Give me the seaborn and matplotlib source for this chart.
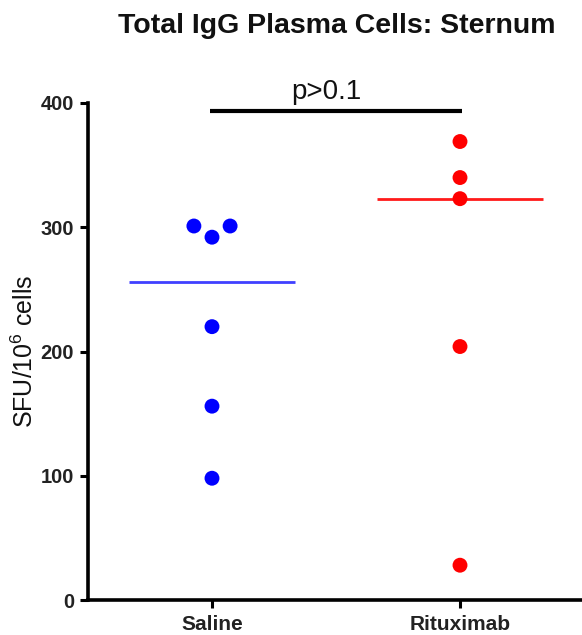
import numpy as np
import pandas as pd
import seaborn as sns
import matplotlib
matplotlib.use("Agg")
import matplotlib.pyplot as plt

# ---- data -------------------------------------------------------------
groups = ["Saline", "Rituximab"]
saline_sfu = [301, 301, 292, 220, 156, 98]
rituximab_sfu = [369, 340, 323, 204, 28]
y_ticks = [0, 100, 200, 300, 400]
title_text = "Total IgG Plasma Cells: Sternum"
ylabel_text = "SFU/10$^{6}$ cells"
p_text = "p>0.1"

# horizontal spread so tied values do not sit on top of each other
saline_spread = [-0.073, 0.073, 0.0, 0.0, 0.0, 0.0]
rituximab_spread = [0.0, 0.0, 0.0, 0.0, 0.0]

colors = {"Saline": "#0000ff", "Rituximab": "#ff0000"}
median_colors = {"Saline": "#4040ff", "Rituximab": "#ff1a1a"}

# ---- style ------------------------------------------------------------
sns.set_theme(style="ticks")
plt.rcParams["font.family"] = ["Liberation Sans", "DejaVu Sans"]
plt.rcParams["mathtext.fontset"] = "custom"
plt.rcParams["mathtext.rm"] = "Liberation Sans"
plt.rcParams["mathtext.it"] = "Liberation Sans"

frames = []
for i, (name, vals, spread) in enumerate(
    [("Saline", saline_sfu, saline_spread), ("Rituximab", rituximab_sfu, rituximab_spread)]
):
    frames.append(pd.DataFrame({
        "group": name,
        "value": vals,
        "pos": [i + s for s in spread],
    }))
df = pd.concat(frames, ignore_index=True)

fig = plt.figure(figsize=(5.82, 6.35), dpi=100)
ax = fig.add_axes([88 / 582, 35 / 635, (584 - 88) / 582, (600 - 103) / 635])

sns.scatterplot(data=df, x="pos", y="value", hue="group", palette=colors,
                s=115, edgecolor="none", linewidth=0, legend=False, ax=ax,
                zorder=3, clip_on=False)

# median bars
for i, name in enumerate(groups):
    med = np.median(df.loc[df["group"] == name, "value"])
    ax.plot([i - 0.335, i + 0.335], [med, med], color=median_colors[name],
            lw=2.0, solid_capstyle="butt", zorder=2)

# comparison bracket
ax.plot([0 - 0.01, 1 + 0.01], [393.5, 393.5], color="black", lw=3.0,
        solid_capstyle="butt", clip_on=False, zorder=4)
ax.text(0.46, 403, p_text, ha="center", va="baseline", fontsize=20,
        color="#111111", clip_on=False)

ax.set_xlim(-0.5, 1.5)
ax.set_ylim(0, 400)
ax.set_xticks(range(len(groups)))
ax.set_xticklabels(groups)
ax.set_yticks(y_ticks)
ax.set_xlabel("")
ax.set_ylabel("")

sns.despine(ax=ax)
for side in ["left", "bottom"]:
    ax.spines[side].set_linewidth(2.6)
    ax.spines[side].set_color("black")

ax.tick_params(axis="y", length=6, width=2.2, pad=4, labelsize=14.5,
               colors="black", labelcolor="#222222")
ax.tick_params(axis="x", length=6, width=2.2, pad=5, labelsize=15,
               colors="black", labelcolor="#222222")
for lab in ax.get_xticklabels() + ax.get_yticklabels():
    lab.set_fontweight("bold")

fig.text(337 / 582, 1 - 33 / 635, title_text, ha="center", va="baseline",
         fontsize=20.5, fontweight="bold", color="#111111")
fig.text(25 / 582, 1 - 351 / 635, ylabel_text, ha="center", va="center",
         rotation=90, fontsize=18, color="#111111")

fig.savefig("out.png", dpi=100)
